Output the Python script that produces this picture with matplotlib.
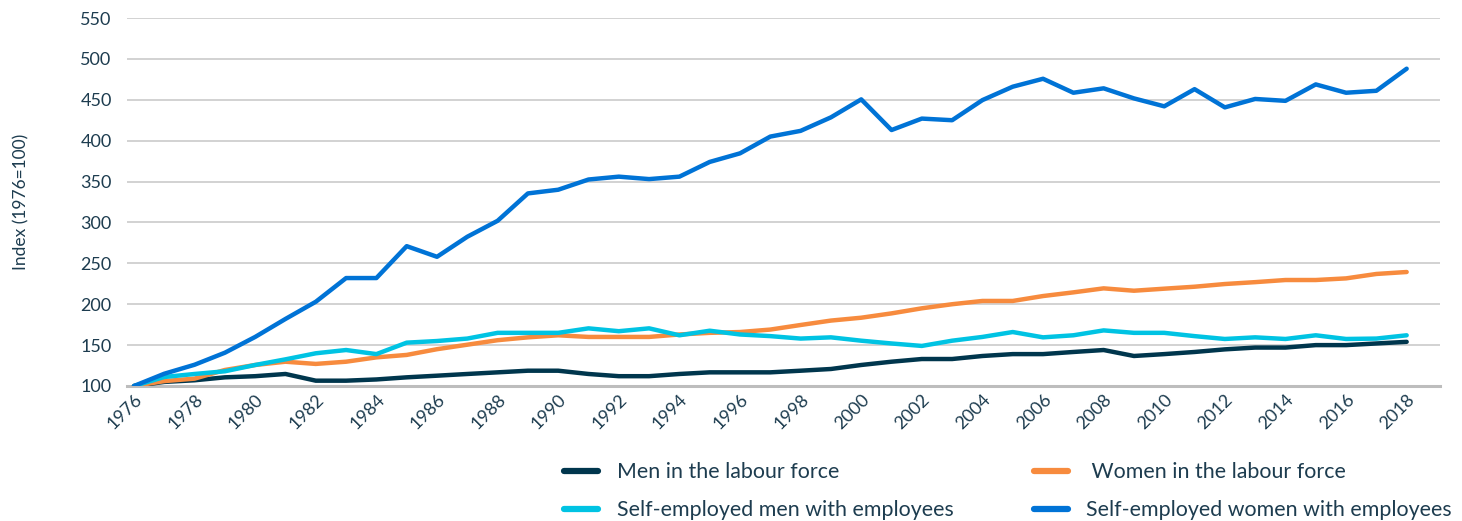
import numpy as np
import matplotlib
matplotlib.use('Agg')
import matplotlib.pyplot as plt

years = list(range(1976, 2019))

men_labour = [100, 105, 107, 110.6, 112, 114.7, 106.5, 106.5, 108, 110.6,
              112.6, 114.7, 116.7, 118.7, 118.7, 114.7, 112, 112, 114.7, 116.7,
              116.7, 116.7, 118.7, 120.8, 125.7, 129.7, 133, 133, 136.7, 139,
              139, 141.6, 144, 136.7, 139, 141.6, 144.8, 147, 147, 150,
              150, 152, 154]

women_labour = [100, 106, 109, 119.6, 125.7, 129.7, 127, 129.7, 135, 138,
                145, 150.5, 156, 159.5, 162, 160, 160, 160, 163, 165,
                166, 169, 174.6, 180, 183.5, 188.8, 195, 200, 204, 204,
                210, 214.5, 219.4, 216.5, 219, 221.4, 224.7, 227, 229.6, 229.6,
                231.6, 237, 239.4]

se_men = [100, 111, 114.7, 118, 125.7, 132.6, 140, 144, 139, 153,
          155, 158, 165, 165, 165, 170.5, 167, 170.5, 162, 167.6,
          163, 161, 158, 159.5, 155.4, 152, 149, 155.4, 160, 166,
          159.5, 162, 168, 165, 165, 161, 157.5, 159.5, 157.5, 162,
          157.5, 158, 162]

se_women = [100, 115, 126, 140.7, 160, 182, 203, 232, 232, 271,
            258, 282.5, 302, 335.5, 340, 352.5, 356, 353, 356, 374,
            384.5, 405, 412, 428.5, 450.5, 413, 427, 425, 449.6, 466,
            475.7, 458.6, 464, 451.7, 442, 463, 440.7, 451, 448.7, 468.8,
            458.6, 461, 488]

series_labels = ['Men in the labour force', ' Women in the labour force',
                 'Self-employed men with employees', 'Self-employed women with employees']
series_colors = ['#00364D', '#F78B3E', '#00C3E3', '#0073D6']

text_color = '#1D3C4F'
plt.rcParams['font.family'] = ['Lato', 'DejaVu Sans']

fig = plt.figure(figsize=(14.62, 5.21), dpi=100)
ax = fig.add_axes([127 / 1462, 1 - 386 / 521, (1440 - 127) / 1462, (386 - 18) / 521])

handles = []
for vals, lab, col in zip([men_labour, women_labour, se_men, se_women], series_labels, series_colors):
    h, = ax.plot(years, vals, color=col, linewidth=3.2, label=lab,
                 solid_capstyle='round', solid_joinstyle='round', zorder=3)
    handles.append(h)

ax.set_xlim(1975.77, 2019.1)
ax.set_ylim(100, 550)
ax.set_yticks(np.arange(100, 551, 50))
ax.set_xticks(years[::2])
ax.grid(axis='y', color='#CFCFCF', linewidth=1.3)
ax.set_axisbelow(True)

for s in ['top', 'right', 'left']:
    ax.spines[s].set_visible(False)
ax.spines['bottom'].set_color('#BDBDBD')
ax.spines['bottom'].set_linewidth(2.2)
ax.spines['bottom'].set_zorder(1)

ax.tick_params(axis='both', length=0, labelsize=13, labelcolor=text_color)
ax.tick_params(axis='y', pad=11)
ax.tick_params(axis='x', pad=4)
for lbl in ax.get_xticklabels():
    lbl.set_rotation(45)
    lbl.set_ha('right')
    lbl.set_va('top')
    lbl.set_rotation_mode('anchor')

ax.set_ylabel('Index (1976=100)', fontsize=12.5, color=text_color, labelpad=37)

order = [0, 2, 1, 3]
leg = fig.legend([handles[i] for i in order], [series_labels[i] for i in order],
                 loc='upper left', bbox_to_anchor=(545 / 1462, 1 - 443 / 521),
                 ncol=2, frameon=False, fontsize=15.4, handlelength=1.6,
                 handletextpad=0.85, columnspacing=3.75, labelspacing=0.85,
                 labelcolor=text_color)
for lh in leg.get_lines():
    lh.set_linewidth(4.5)
    lh.set_solid_capstyle('round')

fig.savefig('out.png', dpi=100)
